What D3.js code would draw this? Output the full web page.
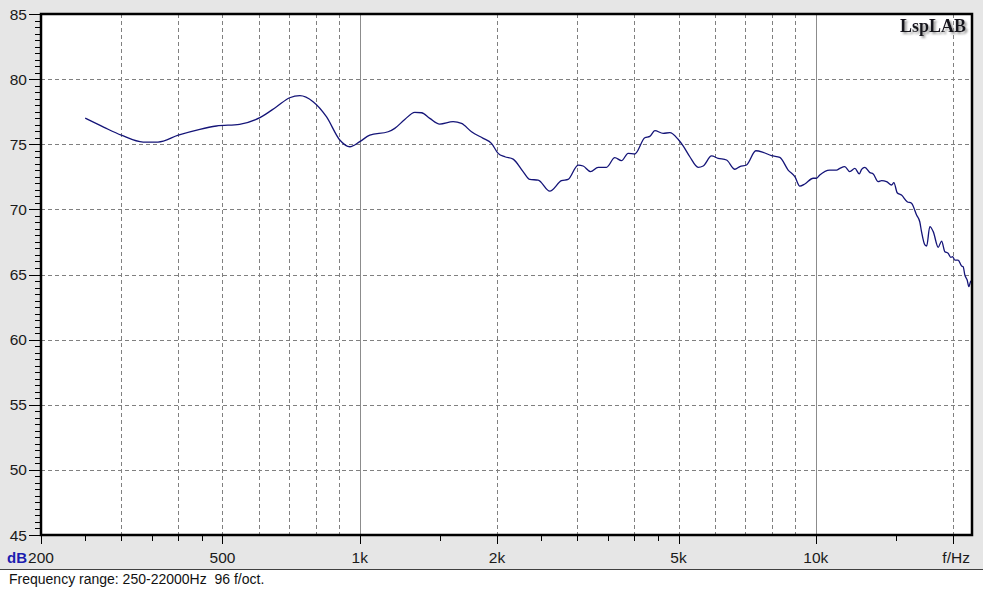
<!DOCTYPE html>
<html><head><meta charset="utf-8">
<script src="https://cdn.jsdelivr.net/npm/d3@7"></script>
<style>
html,body{margin:0;padding:0;background:#e6e6e6;}
svg{display:block;}
</style></head>
<body>
<svg id="chart" width="983" height="592"></svg>
<script>
// ---- data ----
const freqs = [250,275,300,335,361,400,446,485,545,604,657,702,739,790,845,904,951,
  1000,1052,1154,1193,1255,1320,1366,1424,1497,1602,1671,1758,1865,1944,2011,2080,2169,2281,2360,2461,2610,2769,2863,
  3012,3089,3206,3332,3475,3624,3749,3877,4009,4217,4325,4436,4626,4784,4989,5117,5293,5520,5662,5906,6107,6370,6644,6813,
  7047,7386,7664,7995,8337,8695,8995,9224,9460,9867,10035,10200,10730,11100,11290,11570,11870,12180,12450,12600,12810,
  13140,13360,13700,13940,14290,14660,14830,15080,15410,15860,16210,16630,16900,17050,17340,17500,17780,18090,18550,18870,
  19180,19500,19770,19940,20170,20510,20870,21040,21220,21470,21650,21840,21990];
const levels = [77.0,76.3,75.7,75.17,75.17,75.7,76.15,76.4,76.53,77.04,77.88,78.57,78.73,78.27,77.12,75.33,74.81,
  75.2,75.7,75.96,76.22,76.9,77.45,77.42,76.99,76.55,76.73,76.6,75.96,75.45,75.07,74.3,74.04,73.86,72.9,72.3,72.25,71.4,72.2,72.3,
  73.4,73.33,72.9,73.23,73.23,73.97,73.74,74.3,74.25,75.5,75.6,76.04,75.84,75.89,75.38,74.87,74.04,73.23,73.33,74.1,73.92,73.79,73.08,73.28,
  73.41,74.5,74.38,74.12,73.99,73.02,72.51,71.79,71.95,72.39,72.39,72.64,73.02,73.02,73.15,73.28,72.9,73.15,72.72,73.07,73.23,
  72.82,72.72,72.13,72.2,72.13,71.87,72.05,71.28,71.1,70.59,70.47,69.57,69.05,68.29,67.27,67.19,68.67,68.29,67.09,67.57,
  66.75,66.63,66.32,66.37,66.11,66.11,65.65,65.6,64.96,64.58,64.07,64.45,64.53];

const yTickValues = [45,50,55,60,65,70,75,80,85];
const xLabelValues = [200,500,1000,2000,5000,10000,20000];
const xLabelTexts = ["200","500","1k","2k","5k","10k","f/Hz"];
const xMinorTicks = [250,300,350,400,450,1500,2500,3000,3500,4000,4500,15000];
const xDashedGrid = [300,400,500,600,700,800,900,2000,3000,4000,5000,6000,7000,8000,9000,20000];
const xSolidGrid = [1000,10000];
const footerText = "Frequency range: 250-22000Hz  96 f/oct.";
const brand = "LspLAB";

// ---- layout ----
const L = 41, R = 972, T = 14, B = 535;
const sans = "'Liberation Sans',Arial,sans-serif";
const x = d3.scaleLog().domain([200, 22000]).range([L, R]);
const y = d3.scaleLinear().domain([45, 85]).range([B, T]);
const svg = d3.select("#chart");

const defs = svg.append("defs");
const flt = defs.append("filter").attr("id","shadow").attr("x","-10%").attr("y","-30%").attr("width","130%").attr("height","180%");
flt.append("feDropShadow").attr("dx",2).attr("dy",2).attr("stdDeviation",0.8)
  .attr("flood-color","#909090").attr("flood-opacity",0.9);

// background
svg.append("rect").attr("width",983).attr("height",592).attr("fill","#e6e6e6");
svg.append("rect").attr("x",0).attr("y",570).attr("width",983).attr("height",22).attr("fill","#ffffff");
svg.append("line").attr("x1",0).attr("x2",983).attr("y1",569.5).attr("y2",569.5).attr("stroke","#404040").attr("stroke-width",1);
svg.append("rect").attr("x",L).attr("y",T).attr("width",R-L).attr("height",B-T).attr("fill","#ffffff");

// grid
const grid = svg.append("g");
grid.selectAll("line.hg").data(yTickValues.filter(v=>v>45&&v<85)).join("line")
  .attr("x1",L).attr("x2",R).attr("y1",d=>Math.round(y(d))+0.5).attr("y2",d=>Math.round(y(d))+0.5)
  .attr("stroke","#808080").attr("stroke-dasharray","4,3").attr("stroke-width",1);
grid.selectAll("line.vg").data(xDashedGrid).join("line")
  .attr("x1",d=>Math.round(x(d))+0.5).attr("x2",d=>Math.round(x(d))+0.5).attr("y1",T).attr("y2",B)
  .attr("stroke","#808080").attr("stroke-dasharray","4,3").attr("stroke-width",1);
svg.append("g").selectAll("line").data(xSolidGrid).join("line")
  .attr("x1",d=>Math.round(x(d))+0.5).attr("x2",d=>Math.round(x(d))+0.5).attr("y1",T).attr("y2",B)
  .attr("stroke","#8c8c8c").attr("stroke-width",1);

// curve
const pts = freqs.map((f,i)=>[f, levels[i]]);
svg.append("path").datum(pts)
  .attr("d", d3.line().x(d=>x(d[0])).y(d=>y(d[1])).curve(d3.curveMonotoneX))
  .attr("fill","none").attr("stroke","#141478").attr("stroke-width",1.3);

// frame
svg.append("rect").attr("x",L).attr("y",T).attr("width",R-L).attr("height",B-T)
  .attr("fill","none").attr("stroke","#000").attr("stroke-width",2.5);

// y axis ticks
const yMinor = d3.range(45, 85.01, 0.5);
svg.append("g").selectAll("line").data(yMinor).join("line")
  .attr("x1",d=> d%5===0 ? L-12 : L-6).attr("x2",L)
  .attr("y1",d=>Math.round(y(d))+0.5).attr("y2",d=>Math.round(y(d))+0.5)
  .attr("stroke","#000").attr("stroke-width",1);
svg.append("g").selectAll("text").data(yTickValues).join("text")
  .attr("x",27).attr("y",d=>y(d)+5.5).attr("text-anchor","end")
  .style("font-family",sans).attr("font-size",15.5).attr("fill","#1a1a1a").text(d=>d);

// x axis ticks
svg.append("g").selectAll("line").data(xLabelValues).join("line")
  .attr("x1",d=>Math.round(x(d))+0.5).attr("x2",d=>Math.round(x(d))+0.5).attr("y1",B).attr("y2",B+9)
  .attr("stroke","#000").attr("stroke-width",1);
svg.append("g").selectAll("line").data(xMinorTicks).join("line")
  .attr("x1",d=>Math.round(x(d))+0.5).attr("x2",d=>Math.round(x(d))+0.5).attr("y1",B).attr("y2",B+6)
  .attr("stroke","#000").attr("stroke-width",1);
svg.append("g").selectAll("text").data(xLabelValues).join("text")
  .attr("x",(d,i)=> i===6 ? x(d)+3 : x(d)).attr("y",563).attr("text-anchor","middle")
  .style("font-family",sans).attr("font-size",15.5).attr("fill","#1a1a1a").text((d,i)=>xLabelTexts[i]);
svg.append("text").attr("x",7).attr("y",563).style("font-family",sans).attr("font-size",15).attr("font-weight","bold")
  .attr("fill","#1c1cb0").text("dB");

// footer
svg.append("text").attr("x",9).attr("y",584).style("font-family",sans).attr("font-size",14).attr("fill","#111")
  .style("white-space","pre").text(footerText);

// brand
svg.append("text").attr("x",966).attr("y",32).attr("text-anchor","end")
  .style("font-family","'Liberation Serif','Times New Roman',serif").attr("font-weight","bold")
  .attr("font-size",18).attr("fill","#15121e").attr("filter","url(#shadow)").text(brand);
</script>
</body></html>
